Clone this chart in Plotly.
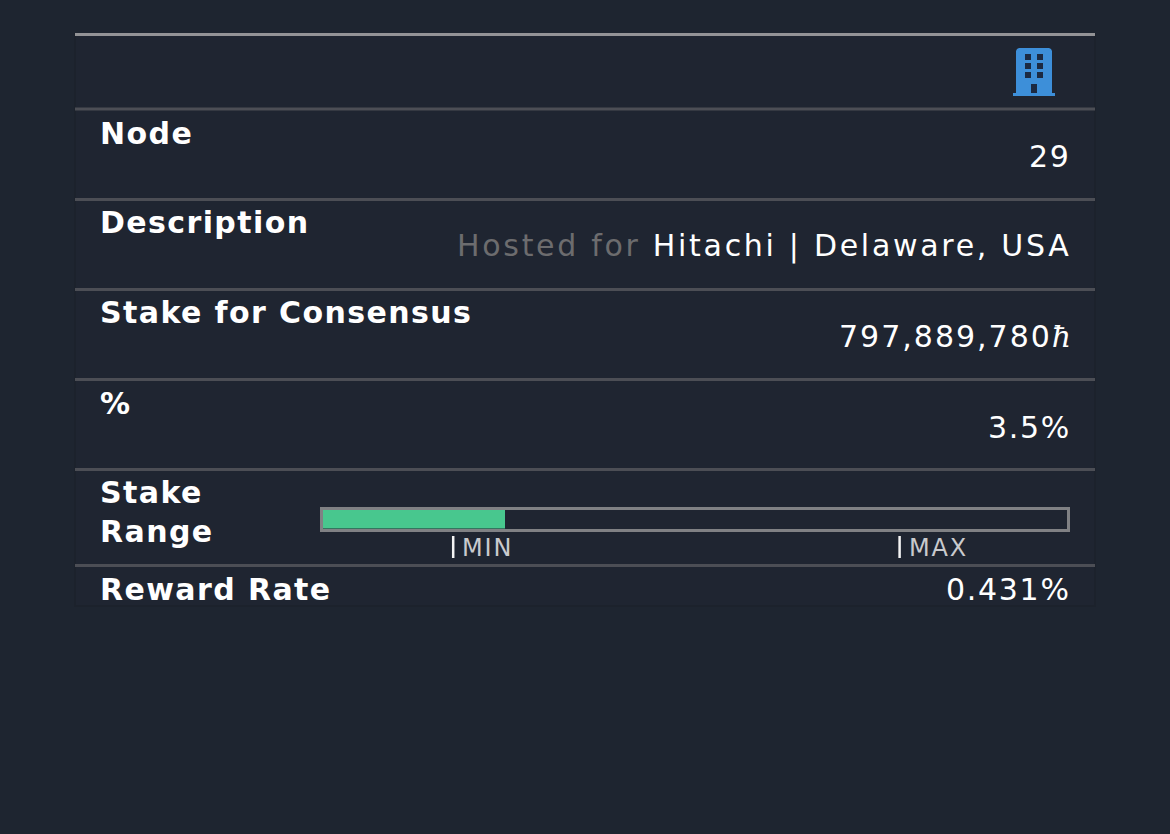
import plotly.graph_objects as go

W, H = 1170, 834
BG = "#1e2530"
FONT = "DejaVu Sans"

labels = ["Node", "Description", "Stake for Consensus", "%", "Stake<br>Range", "Reward Rate"]
values = ["29",
          "<span style='color:#6c6c6e;letter-spacing:2.7px'>Hosted for </span><span style='letter-spacing:2.7px'>Hitachi | Delaware, USA</span>",
          "<span style='letter-spacing:2px'>797,889,780</span><span style='font-family:DejaVu Serif'><i>ħ</i></span>",
          "3.5%", "", "0.431%"]

# stake range bar, as a fraction of the track
stake_share = [0.245]
range_marks = [0.175, 0.775]
range_names = ["MIN", "MAX"]


def px(x):
    return x / W


def py(y):
    return 1 - y / H


def spaced(text, amount):
    # letter-spacing has to go on each line separately
    return "<br>".join(f"<span style='letter-spacing:{amount}px'>{t}</span>" for t in text.split("<br>"))


fig = go.Figure()
fig.add_trace(go.Bar(x=stake_share, y=[0], orientation="h", width=1,
                     marker=dict(color="#48c78e", line_width=0),
                     hoverinfo="skip", showlegend=False))

fig.update_xaxes(domain=[px(323), px(1067)], range=[0, 1], showgrid=False, zeroline=False,
                 showticklabels=False, ticks="", showline=True, mirror=True,
                 linecolor="#808184", linewidth=3)
fig.update_yaxes(domain=[py(528.5), py(510)], range=[-0.5, 0.5], showgrid=False, zeroline=False,
                 showticklabels=False, ticks="", showline=True, mirror=True,
                 linecolor="#808184", linewidth=3)

# panel and row rules
shapes = [dict(type="rect", xref="paper", yref="paper", x0=px(75), x1=px(1095), y0=py(606), y1=py(34),
               fillcolor="#1f2531", line=dict(color="#1c222c", width=2), layer="below")]
shapes.append(dict(type="line", xref="paper", yref="paper", x0=px(75), x1=px(1095), y0=py(34.5), y1=py(34.5),
                   line=dict(color="#939396", width=3)))
for y in [109, 199.5, 289.5, 379.5, 469.5, 565.5]:
    shapes.append(dict(type="line", xref="paper", yref="paper", x0=px(75), x1=px(1095), y0=py(y), y1=py(y),
                       line=dict(color="#4c4e55", width=3)))


def box(x0, x1, y0, y1, color):
    shapes.append(dict(type="rect", xref="paper", yref="paper", x0=px(x0), x1=px(x1), y0=py(y1), y1=py(y0),
                       fillcolor=color, line_width=0))


# building icon, top corners rounded
outline = [(1016, 94), (1016, 51), (1017, 49), (1019, 48), (1049, 48), (1051, 49), (1052, 51), (1052, 94)]
path = "M " + " L ".join(f"{px(x)},{py(y)}" for x, y in outline) + " Z"
shapes.append(dict(type="path", xref="paper", yref="paper", path=path, fillcolor="#3d8fd9", line_width=0))
box(1013, 1055, 93, 96, "#3d8fd9")
for wy in [54, 63, 72]:
    for wx in [1025, 1037]:
        box(wx, wx + 6, wy, wy + 6, "#1c2a42")
box(1031, 1037, 84, 93, "#1c2a42")

# min / max tick marks
for m in range_marks:
    shapes.append(dict(type="line", xref="x", yref="paper", x0=m, x1=m, y0=py(558), y1=py(536),
                       line=dict(color="#f4f4f4", width=2.5)))

annotations = []
label_y = [133, 222, 312, 403, 512, 589]
value_y = [157, 246, 337, 427, None, 589]
for lab, val, ly, vy in zip(labels, values, label_y, value_y):
    annotations.append(dict(x=px(100), y=py(ly), xref="paper", yref="paper",
                            text="<b>" + spaced(lab, 1.4) + "</b>",
                            showarrow=False, xanchor="left", yanchor="middle", align="left",
                            xshift=-2, font=dict(size=30, color="#ffffff", family=FONT)))
    if val:
        text = val if "span" in val else spaced(val, 1.7)
        annotations.append(dict(x=px(1069), y=py(vy), xref="paper", yref="paper", text=text,
                                showarrow=False, xanchor="right", yanchor="middle", align="right",
                                xshift=3.5, font=dict(size=30, color="#ffffff", family=FONT)))
for m, name in zip(range_marks, range_names):
    annotations.append(dict(x=m, y=py(548), xref="x", yref="paper", text=spaced(name, 1.8), showarrow=False,
                            xanchor="left", yanchor="middle", xshift=7,
                            font=dict(size=24, color="#c9cacd", family=FONT)))

fig.update_layout(width=W, height=H, margin=dict(l=0, r=0, t=0, b=0),
                  paper_bgcolor=BG, plot_bgcolor=BG, bargap=0,
                  shapes=shapes, annotations=annotations)
fig.write_html("out.html", config=dict(displayModeBar=False),
               post_script="document.body.style.margin='0';document.body.style.overflow='hidden';")
